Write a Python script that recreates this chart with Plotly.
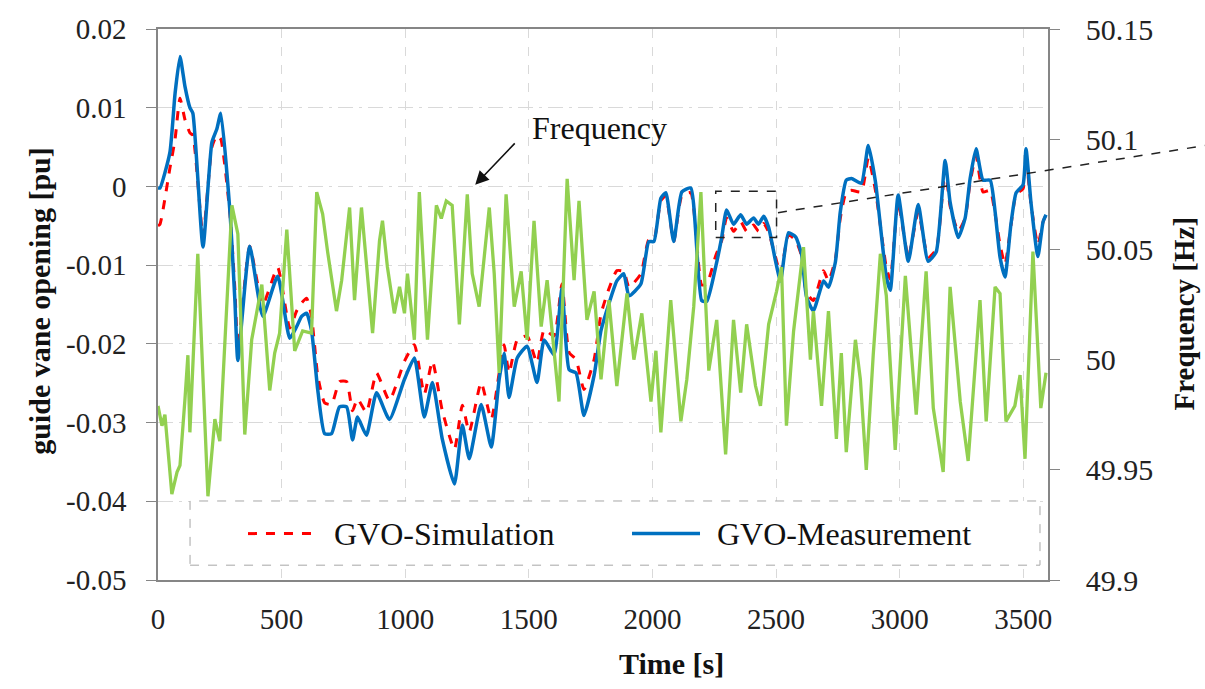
import plotly.graph_objects as go

# ---------------- data ----------------
time_s = [0, 8, 48, 69, 89, 109, 129, 141, 182, 218, 238, 254, 291, 311, 323, 371, 424, 484,
          533, 561, 581, 601, 621, 646, 674, 702, 734, 763, 787, 807, 843, 884, 936, 997,
          1037, 1077, 1110, 1150, 1199, 1231, 1259, 1307, 1348, 1380, 1400, 1420, 1453,
          1493, 1533, 1562, 1602, 1634, 1663, 1691, 1723, 1764, 1792, 1824, 1856, 1884,
          1905, 1953, 1985, 2006, 2034, 2054, 2086, 2119, 2155, 2199, 2220, 2256, 2280,
          2300, 2328, 2357, 2381, 2409, 2429, 2450, 2470, 2498, 2518, 2550, 2579, 2603,
          2623, 2651, 2692, 2712, 2740, 2760, 2784, 2805, 2845, 2873, 2902, 2946, 2962,
          2994, 3035, 3075, 3115, 3148, 3184, 3204, 3237, 3265, 3285, 3309, 3337, 3366,
          3386, 3406, 3426, 3450, 3471, 3499, 3511, 3531, 3559, 3580, 3592]

gvo_meas = [-0.0002, -0.0002, 0.0043, 0.0118, 0.0165, 0.0127, 0.0100, 0.0093, -0.0077, 0.0056,
            0.0073, 0.0093, -0.0032, -0.0145, -0.0221, -0.0076, -0.0165, -0.0114, -0.0193,
            -0.0178, -0.0165, -0.0161, -0.0183, -0.0258, -0.0314, -0.0314, -0.0280, -0.0280,
            -0.0322, -0.0293, -0.0316, -0.0262, -0.0296, -0.0245, -0.0218, -0.0293, -0.0249,
            -0.0321, -0.0378, -0.0303, -0.0346, -0.0277, -0.0331, -0.0245, -0.0212, -0.0268,
            -0.0218, -0.0203, -0.0249, -0.0195, -0.0214, -0.0130, -0.0233, -0.0237, -0.0291,
            -0.0240, -0.0183, -0.0149, -0.0120, -0.0111, -0.0139, -0.0124, -0.0070, -0.0070,
            -0.0015, -0.0008, -0.0070, -0.0007, -0.0002, -0.0145, -0.0146, -0.0102, -0.0065,
            -0.0030, -0.0048, -0.0036, -0.0048, -0.0040, -0.0048, -0.0038, -0.0052, -0.0095,
            -0.0120, -0.0059, -0.0064, -0.0086, -0.0140, -0.0158, -0.0120, -0.0128, -0.0096,
            -0.0032, 0.0008, 0.0010, 0.0004, 0.0052, 0.0006, -0.0115, -0.0132, -0.0011,
            -0.0095, -0.0023, -0.0095, -0.0083, 0.0033, -0.0020, -0.0065, -0.0040, 0.0010,
            0.0048, 0.0008, 0.0008, -0.0032, -0.0090, -0.0115, -0.0048, -0.0008, 0.0002,
            0.0048, -0.0020, -0.0089, -0.0045, -0.0036]

gvo_sim = [-0.0050, -0.0048, 0.0023, 0.0060, 0.0112, 0.0085, 0.0068, 0.0065, -0.0063, 0.0050,
           0.0065, 0.0060, -0.0035, -0.0130, -0.0205, -0.0076, -0.0150, -0.0103, -0.0180,
           -0.0158, -0.0148, -0.0142, -0.0165, -0.0240, -0.0275, -0.0277, -0.0248, -0.0248,
           -0.0285, -0.0270, -0.0287, -0.0237, -0.0272, -0.0222, -0.0201, -0.0264, -0.0222,
           -0.0285, -0.0334, -0.0278, -0.0312, -0.0249, -0.0296, -0.0237, -0.0201, -0.0237,
           -0.0195, -0.0190, -0.0224, -0.0182, -0.0190, -0.0124, -0.0211, -0.0220, -0.0258,
           -0.0220, -0.0162, -0.0130, -0.0107, -0.0108, -0.0128, -0.0111, -0.0068, -0.0068,
           -0.0018, -0.0012, -0.0070, -0.0012, -0.0008, -0.0125, -0.0124, -0.0088, -0.0069,
           -0.0040, -0.0057, -0.0045, -0.0057, -0.0049, -0.0057, -0.0047, -0.0058, -0.0090,
           -0.0111, -0.0062, -0.0068, -0.0088, -0.0135, -0.0145, -0.0107, -0.0120, -0.0092,
           -0.0040, -0.0007, -0.0005, -0.0007, 0.0036, -0.0005, -0.0103, -0.0118, -0.0020,
           -0.0090, -0.0032, -0.0090, -0.0080, 0.0023, -0.0025, -0.0057, -0.0040, 0.0005,
           0.0039, -0.0007, -0.0005, -0.0035, -0.0074, -0.0099, -0.0050, -0.0010, -0.0003,
           0.0036, -0.0022, -0.0074, -0.0045, -0.0036]

freq_t = [0, 16, 28, 48, 56, 77, 89, 109, 121, 129, 161, 202, 230, 250, 299, 323, 351, 379,
          420, 452, 472, 492, 521, 553, 585, 621, 642, 666, 686, 722, 743, 775, 795, 823,
          868, 896, 908, 928, 956, 977, 997, 1009, 1037, 1057, 1090, 1126, 1146, 1166,
          1190, 1219, 1251, 1271, 1299, 1340, 1360, 1380, 1408, 1441, 1469, 1493, 1521,
          1550, 1574, 1622, 1655, 1683, 1703, 1735, 1764, 1792, 1824, 1856, 1897, 1925,
          1957, 1994, 2014, 2034, 2074, 2115, 2139, 2167, 2196, 2216, 2228, 2260, 2296,
          2328, 2357, 2381, 2417, 2437, 2470, 2502, 2522, 2542, 2571, 2611, 2639, 2651,
          2684, 2712, 2744, 2764, 2784, 2821, 2841, 2865, 2893, 2922, 2946, 2982, 3023,
          3067, 3107, 3136, 3176, 3204, 3245, 3277, 3325, 3350, 3386, 3406, 3430, 3466,
          3487, 3507, 3539, 3571, 3592]

freq_hz = [49.979, 49.970, 49.975, 49.949, 49.939, 49.949, 49.952, 49.982, 50.002, 49.967,
           50.048, 49.938, 49.973, 49.963, 50.070, 50.057, 49.966, 50.009, 50.034, 49.986,
           50.003, 50.012, 50.059, 50.004, 50.013, 50.012, 50.076, 50.066, 50.049, 50.022,
           50.036, 50.069, 50.027, 50.069, 50.012, 50.054, 50.063, 50.042, 50.021, 50.033,
           50.021, 50.039, 50.009, 50.076, 50.009, 50.070, 50.064, 50.072, 50.070, 50.016,
           50.075, 50.039, 50.024, 50.069, 50.039, 49.994, 50.075, 50.024, 50.040, 50.009,
           50.063, 50.015, 50.036, 49.981, 50.082, 50.036, 50.072, 50.018, 50.031, 49.991,
           50.027, 49.988, 50.030, 50.000, 50.021, 49.981, 50.004, 49.967, 50.027, 49.972,
           49.991, 50.024, 50.076, 50.024, 49.995, 50.018, 49.957, 50.018, 49.985, 50.016,
           49.988, 49.979, 50.016, 50.031, 50.042, 49.970, 50.013, 50.051, 50.000, 50.022,
           49.979, 50.022, 49.964, 50.003, 49.958, 50.009, 49.991, 49.950, 50.002, 50.048,
           50.029, 49.959, 50.038, 49.975, 50.040, 49.978, 49.949, 50.033, 49.981, 49.954,
           50.027, 49.972, 50.033, 50.030, 49.972, 49.979, 49.993, 49.955, 50.049, 49.978,
           49.994]

x_ticks = [0, 500, 1000, 1500, 2000, 2500, 3000, 3500]
y_ticks = [-0.05, -0.04, -0.03, -0.02, -0.01, 0, 0.01, 0.02]
y_tick_text = ["-0.05", "-0.04", "-0.03", "-0.02", "-0.01", "0", "0.01", "0.02"]
y2_ticks = [49.9, 49.95, 50.0, 50.05, 50.1, 50.15]
y2_tick_text = ["49.9", "49.95", "50", "50.05", "50.1", "50.15"]

assert len(time_s) == len(gvo_meas) == len(gvo_sim)
assert len(freq_t) == len(freq_hz)

SERIF = "Liberation Serif, Times New Roman, serif"
BLUE = "#0070C0"
RED = "#FF0000"
GREEN = "#92D050"
AXIS = "#868686"
GRID = "#D9D9D9"
TXT = "#111111"

fig = go.Figure()
fig.add_trace(go.Scatter(x=time_s, y=gvo_sim, mode="lines", name="GVO-Simulation",
                         line=dict(color=RED, width=3, dash="dash", shape="spline", smoothing=0.5)))
fig.add_trace(go.Scatter(x=time_s, y=gvo_meas, mode="lines", name="GVO-Measurement",
                         line=dict(color=BLUE, width=3.5, shape="spline", smoothing=0.5)))
fig.add_trace(go.Scatter(x=freq_t, y=freq_hz, mode="lines", name="Frequency", yaxis="y2",
                         line=dict(color=GREEN, width=3.3), showlegend=False))

tickfont = dict(family=SERIF, size=29, color="#222222")
fig.update_layout(
    width=1205, height=689,
    margin=dict(l=158, r=157, t=22, b=109),
    paper_bgcolor="white", plot_bgcolor="white",
    showlegend=False,
    xaxis=dict(range=[0, 3600], tickvals=x_ticks, ticks="", showline=True, linecolor=AXIS,
               linewidth=1.5, mirror=True, showgrid=True, gridcolor=GRID, griddash="dash",
               gridwidth=1, zeroline=False, tickfont=tickfont, ticklabelstandoff=12),
    yaxis=dict(range=[-0.05, 0.02], tickvals=y_ticks, ticktext=y_tick_text, ticks="outside",
               ticklen=10, tickcolor=AXIS, showline=True, linecolor=AXIS, linewidth=1.5,
               showgrid=True, gridcolor=GRID, griddash="longdashdot", gridwidth=1,
               zeroline=False, tickfont=tickfont, ticklabelstandoff=14),
    yaxis2=dict(range=[49.9, 50.15], tickvals=y2_ticks, ticktext=y2_tick_text, overlaying="y",
                side="right", ticks="outside", ticklen=10, tickcolor=AXIS, showline=True,
                linecolor=AXIS, linewidth=1.5, showgrid=False, zeroline=False,
                tickfont=dict(family=SERIF, size=30, color="#222222"), ticklabelstandoff=20),
)

# axis titles
fig.add_annotation(text="<b>guide vane opening [pu]</b>", xref="paper", yref="paper",
                   x=-0.1335, y=0.507, xanchor="center", yanchor="middle", textangle=-90,
                   showarrow=False, font=dict(family=SERIF, size=30, color=TXT))
fig.add_annotation(text="<b>Frequency [Hz]</b>", xref="paper", yref="paper",
                   x=1.153, y=0.484, xanchor="center", yanchor="middle", textangle=-90,
                   showarrow=False, font=dict(family=SERIF, size=29, color=TXT))
fig.add_annotation(text="<b>Time [s]</b>", xref="paper", yref="paper",
                   x=0.5775, y=-0.1523, xanchor="center", yanchor="middle",
                   showarrow=False, font=dict(family=SERIF, size=30, color=TXT))

# "Frequency" label with arrow
fig.add_annotation(text="Frequency", xref="paper", yref="paper", x=0.4966, y=0.8208,
                   xanchor="center", yanchor="middle",
                   showarrow=False, font=dict(family=SERIF, size=32, color=TXT))
fig.add_annotation(text="", x=1283, y=0.0002, xref="x", yref="y", ax=41, ay=-43,
                   showarrow=True, arrowhead=2, arrowsize=1.7, arrowwidth=1.6,
                   arrowcolor=TXT, standoff=0)

# zoom box and leader line
fig.add_shape(type="rect", xref="x", yref="y", x0=2256, x1=2502, y0=-0.0065, y1=-0.0006,
              line=dict(color="#222222", width=1.5, dash="dash"))
fig.add_shape(type="line", xref="paper", yref="paper", x0=0.6966, y0=0.6667,
              x1=1.1764, y1=0.7885, line=dict(color="#222222", width=1.5, dash="dash"))

# custom legend
fig.add_shape(type="rect", xref="paper", yref="paper", x0=0.036, x1=0.991, y0=0.0269,
              y1=0.1434, line=dict(color="#A6A6A6", width=1, dash="dash"), fillcolor="white",
              layer="above")
fig.add_shape(type="line", xref="paper", yref="paper", x0=0.1011, x1=0.1798, y0=0.0842,
              y1=0.0842, line=dict(color=RED, width=3, dash="dash"))
fig.add_shape(type="line", xref="paper", yref="paper", x0=0.5326, x1=0.609, y0=0.0842,
              y1=0.0842, line=dict(color=BLUE, width=3.5))
fig.add_annotation(text="GVO-Simulation", xref="paper", yref="paper", x=0.1955, y=0.0842,
                   xanchor="left", yanchor="middle", showarrow=False,
                   font=dict(family=SERIF, size=32, color=TXT))
fig.add_annotation(text="GVO-Measurement", xref="paper", yref="paper", x=0.6258, y=0.0842,
                   xanchor="left", yanchor="middle", showarrow=False,
                   font=dict(family=SERIF, size=32, color=TXT))

fig.write_html("out.html")
